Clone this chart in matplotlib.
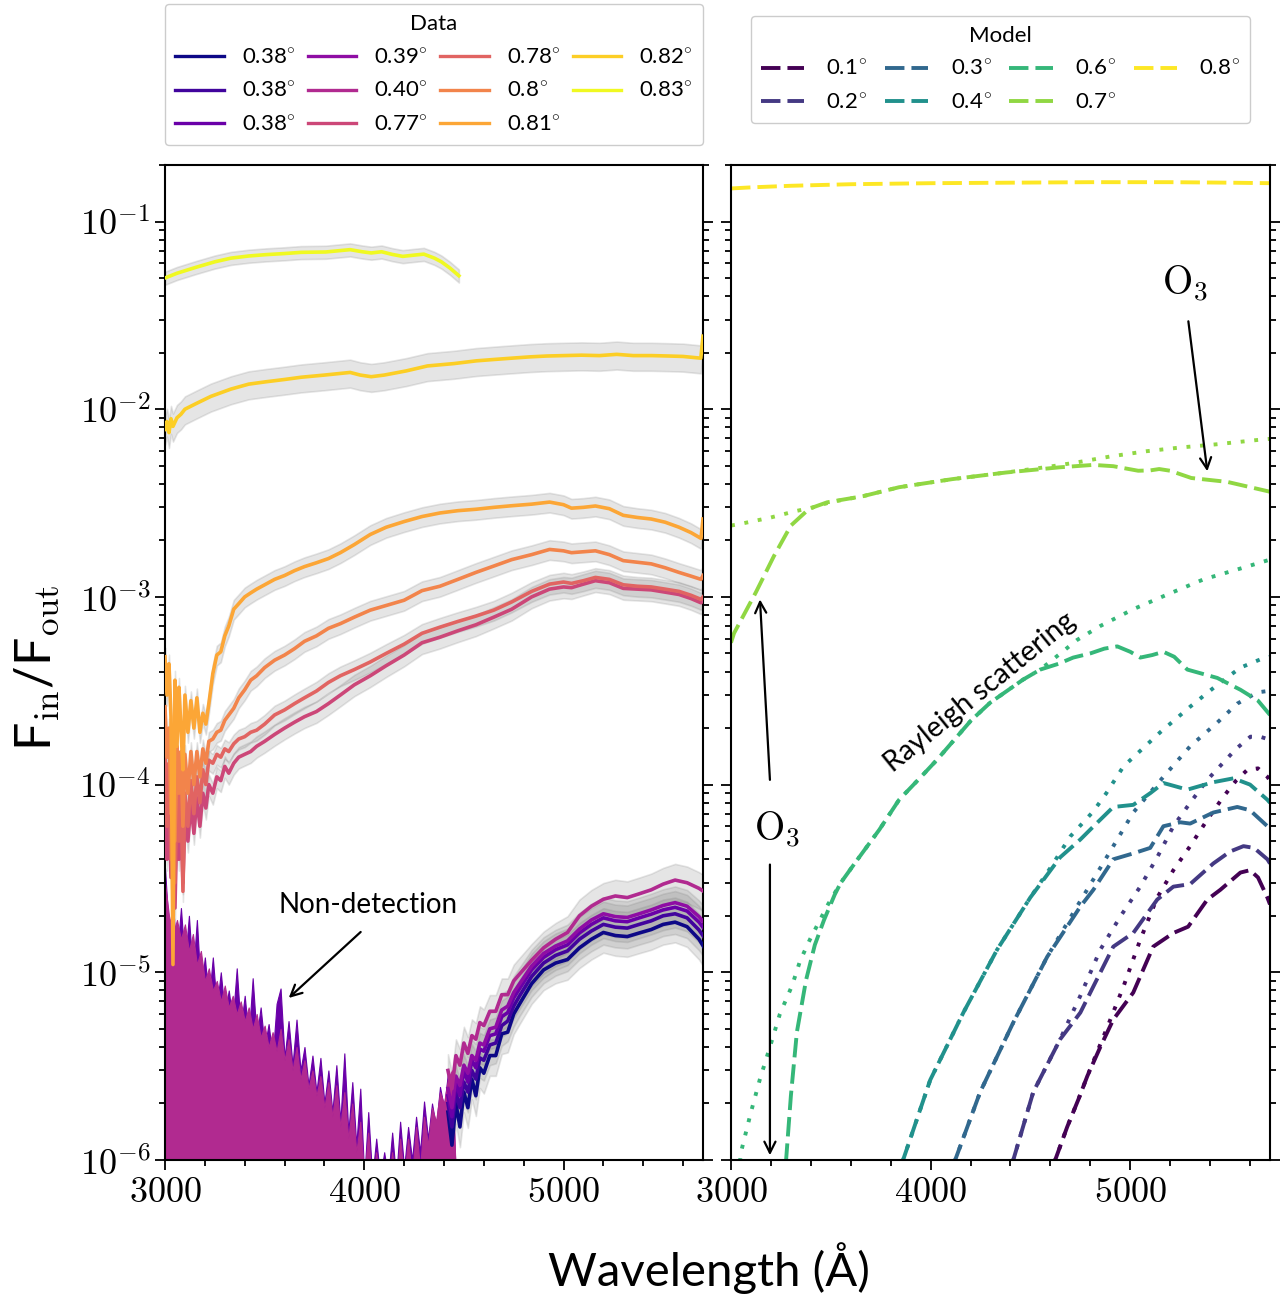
import numpy as np
import matplotlib
matplotlib.use("Agg")
import matplotlib.pyplot as plt
from matplotlib import ticker

plt.rcParams['font.family'] = ['Lato', 'DejaVu Sans']
plt.rcParams['mathtext.fontset'] = 'cm'

# ---------------- data (observed transmission, left panel) ----------------
data_labels = ['0.38', '0.38', '0.38', '0.39', '0.40', '0.77', '0.78', '0.8', '0.81', '0.82', '0.83']

# noisy short-wavelength part of the 0.38-0.40 group (upper envelopes)
noise_wl = [3000, 3020, 3040, 3060, 3080, 3100, 3120, 3140, 3160, 3180, 3200, 3220, 3240, 3260,
            3280, 3300, 3320, 3340, 3360, 3380, 3400, 3420, 3440, 3460, 3480, 3500, 3520, 3540,
            3560, 3580, 3600, 3620, 3640, 3660, 3680, 3700, 3720, 3740, 3760, 3780, 3800, 3820,
            3840, 3860, 3880, 3900, 3920, 3940, 3960, 3980, 4000, 4020, 4040, 4060, 4080, 4100,
            4120, 4140, 4160, 4180, 4200, 4220, 4240, 4260, 4280, 4300, 4320, 4340, 4360, 4380,
            4400, 4420, 4440, 4460]
noise_outer = [3.6e-5, 1.6e-5, 2.3e-5, 1.2e-5, 2.2e-5, 1.1e-5, 2.0e-5, 9.5e-6, 1.9e-5, 8.0e-6,
               1.2e-5, 7.0e-6, 1.2e-5, 6.5e-6, 1.0e-5, 6.0e-6, 8.0e-6, 5.5e-6, 1.05e-5, 5.0e-6,
               7.5e-6, 4.5e-6, 9.3e-6, 4.5e-6, 6.5e-6, 4.0e-6, 5.3e-6, 3.5e-6, 6.8e-6, 8.2e-6,
               3.5e-6, 5.5e-6, 3.2e-6, 5.6e-6, 3.0e-6, 4.0e-6, 2.5e-6, 3.6e-6, 2.3e-6, 3.5e-6,
               2.0e-6, 3.0e-6, 1.8e-6, 3.2e-6, 1.6e-6, 3.7e-6, 1.4e-6, 2.6e-6, 1.2e-6, 2.4e-6,
               8e-7, 1.8e-6, 8e-7, 1.3e-6, 8e-7, 1.1e-6, 8e-7, 1.4e-6, 8e-7, 1.6e-6,
               9e-7, 1.5e-6, 1.0e-6, 1.7e-6, 1.1e-6, 2.05e-6, 1.3e-6, 2.0e-6, 1.5e-6, 2.45e-6,
               1.9e-6, 2.9e-6, 2.6e-6, 8e-7]
noise_body = [3.0e-5, 2.0e-5, 1.6e-5, 1.9e-5, 1.5e-5, 1.8e-5, 1.3e-5, 1.6e-5, 1.1e-5, 1.3e-5,
              9.0e-6, 1.05e-5, 8.0e-6, 9.0e-6, 7.0e-6, 8.5e-6, 6.5e-6, 7.5e-6, 6.0e-6, 7.0e-6,
              5.5e-6, 6.5e-6, 5.0e-6, 6.0e-6, 4.5e-6, 5.2e-6, 4.0e-6, 4.8e-6, 3.8e-6, 5.0e-6,
              3.4e-6, 4.4e-6, 3.0e-6, 4.0e-6, 2.7e-6, 3.4e-6, 2.4e-6, 3.0e-6, 2.2e-6, 2.8e-6,
              1.9e-6, 2.6e-6, 1.7e-6, 2.5e-6, 1.5e-6, 2.3e-6, 1.3e-6, 2.0e-6, 1.1e-6, 1.6e-6,
              8e-7, 1.4e-6, 7e-7, 1.1e-6, 7e-7, 9e-7, 7e-7, 1.1e-6, 7e-7, 1.3e-6,
              8e-7, 1.3e-6, 8e-7, 1.5e-6, 9e-7, 1.7e-6, 1.2e-6, 1.9e-6, 1.6e-6, 2.3e-6,
              2.0e-6, 2.7e-6, 3.0e-6, 8e-7]

# long-wavelength part of the 0.38-0.40 group
wl_A = [4420, 4440, 4460, 4480, 4500, 4520, 4540, 4560, 4580, 4600, 4630, 4660, 4690, 4720, 4750,
        4780, 4840, 4900, 4960, 5020, 5080, 5140, 5200, 5260, 5320, 5380, 5440, 5500, 5560, 5620,
        5680, 5703]
f_038a = [1.8e-6, 1.2e-6, 2.0e-6, 1.5e-6, 2.3e-6, 1.9e-6, 2.7e-6, 2.2e-6, 3.1e-6, 2.9e-6, 3.6e-6,
          3.6e-6, 4.7e-6, 4.8e-6, 6.0e-6, 6.8e-6, 8.7e-6, 1.03e-5, 1.12e-5, 1.17e-5, 1.35e-5, 1.5e-5,
          1.63e-5, 1.57e-5, 1.55e-5, 1.62e-5, 1.69e-5, 1.8e-5, 1.85e-5, 1.75e-5, 1.5e-5, 1.37e-5]
f_038b = [2.0e-6, 1.5e-6, 2.3e-6, 1.9e-6, 2.6e-6, 2.3e-6, 3.0e-6, 2.7e-6, 3.5e-6, 3.4e-6, 4.1e-6,
          4.2e-6, 5.2e-6, 5.5e-6, 6.6e-6, 7.5e-6, 9.5e-6, 1.12e-5, 1.23e-5, 1.3e-5, 1.5e-5, 1.66e-5,
          1.8e-5, 1.74e-5, 1.72e-5, 1.8e-5, 1.88e-5, 2.0e-5, 2.05e-5, 1.95e-5, 1.68e-5, 1.55e-5]
f_038c = [2.2e-6, 1.7e-6, 2.6e-6, 2.2e-6, 3.0e-6, 2.6e-6, 3.4e-6, 3.1e-6, 3.9e-6, 3.8e-6, 4.6e-6,
          4.7e-6, 5.8e-6, 6.1e-6, 7.3e-6, 8.2e-6, 1.03e-5, 1.2e-5, 1.32e-5, 1.4e-5, 1.62e-5, 1.8e-5,
          1.95e-5, 1.88e-5, 1.86e-5, 1.95e-5, 2.04e-5, 2.15e-5, 2.22e-5, 2.12e-5, 1.85e-5, 1.72e-5]
f_039 = [2.4e-6, 1.9e-6, 2.8e-6, 2.5e-6, 3.2e-6, 2.9e-6, 3.6e-6, 3.4e-6, 4.2e-6, 4.1e-6, 5.0e-6,
         5.1e-6, 6.3e-6, 6.6e-6, 7.8e-6, 8.7e-6, 1.08e-5, 1.26e-5, 1.38e-5, 1.47e-5, 1.7e-5, 1.9e-5,
         2.05e-5, 1.98e-5, 1.96e-5, 2.05e-5, 2.15e-5, 2.27e-5, 2.35e-5, 2.25e-5, 1.98e-5, 1.85e-5]
f_040 = [3.0e-6, 2.4e-6, 3.6e-6, 3.2e-6, 4.2e-6, 3.7e-6, 4.6e-6, 4.4e-6, 5.4e-6, 5.2e-6, 6.2e-6,
         6.2e-6, 7.6e-6, 7.6e-6, 9.0e-6, 9.8e-6, 1.16e-5, 1.35e-5, 1.5e-5, 1.63e-5, 2.0e-5, 2.25e-5,
         2.45e-5, 2.55e-5, 2.5e-5, 2.62e-5, 2.75e-5, 2.95e-5, 3.1e-5, 3.0e-5, 2.8e-5, 2.7e-5]

wl_B = [3000, 3010, 3020, 3030, 3040, 3050, 3060, 3070, 3080, 3090, 3100, 3115, 3130, 3145, 3160,
        3175, 3190, 3205, 3220, 3240, 3260, 3280, 3300, 3320, 3345, 3370, 3400, 3430, 3460, 3500,
        3550, 3600, 3650, 3700, 3760, 3820, 3880, 3950, 4030, 4110, 4200, 4290, 4380, 4470, 4560,
        4650, 4740, 4840, 4930, 5000, 5040, 5100, 5160, 5230, 5300, 5370, 5440, 5510, 5580, 5640,
        5690, 5700]
f_077 = [1.1e-4, 4e-5, 9e-5, 3.2e-5, 8e-5, 2.2e-5, 7e-5, 4e-5, 7.5e-5, 3e-5, 7e-5, 5e-5, 8e-5, 5.5e-5,
         8.5e-5, 6e-5, 9e-5, 7.5e-5, 1.0e-4, 9e-5, 1.1e-4, 1.05e-4, 1.25e-4, 1.15e-4, 1.3e-4, 1.4e-4,
         1.45e-4, 1.5e-4, 1.6e-4, 1.7e-4, 1.85e-4, 2.0e-4, 2.15e-4, 2.3e-4, 2.45e-4, 2.7e-4, 3.0e-4,
         3.4e-4, 3.8e-4, 4.3e-4, 4.9e-4, 5.7e-4, 6.1e-4, 6.6e-4, 7.1e-4, 7.8e-4, 8.6e-4, 1.0e-3,
         1.1e-3, 1.13e-3, 1.12e-3, 1.17e-3, 1.22e-3, 1.19e-3, 1.11e-3, 1.1e-3, 1.09e-3, 1.06e-3,
         1.03e-3, 9.8e-4, 9.3e-4, 9.6e-4]
f_078 = [1.5e-4, 6e-5, 1.3e-4, 4e-5, 1.1e-4, 3e-5, 9e-5, 5e-5, 1.0e-4, 2.7e-5, 9e-5, 6e-5, 1.05e-4, 7e-5,
         1.1e-4, 8e-5, 1.2e-4, 1.0e-4, 1.35e-4, 1.3e-4, 1.45e-4, 1.4e-4, 1.55e-4, 1.5e-4, 1.65e-4,
         1.75e-4, 1.8e-4, 1.9e-4, 1.95e-4, 2.1e-4, 2.35e-4, 2.5e-4, 2.7e-4, 2.9e-4, 3.15e-4, 3.5e-4,
         3.8e-4, 4.1e-4, 4.5e-4, 5.0e-4, 5.6e-4, 6.4e-4, 6.9e-4, 7.4e-4, 7.9e-4, 8.5e-4, 9.4e-4,
         1.07e-3, 1.17e-3, 1.2e-3, 1.18e-3, 1.22e-3, 1.27e-3, 1.24e-3, 1.16e-3, 1.14e-3, 1.13e-3,
         1.1e-3, 1.07e-3, 1.02e-3, 9.7e-4, 1.0e-3]
f_080 = [2.6e-4, 1.4e-4, 2.0e-4, 7e-5, 1.8e-4, 5e-5, 1.6e-4, 9e-5, 1.5e-4, 6e-5, 1.45e-4, 9e-5, 1.5e-4,
         1.0e-4, 1.5e-4, 1.1e-4, 1.55e-4, 1.3e-4, 1.7e-4, 1.75e-4, 1.9e-4, 1.95e-4, 2.2e-4, 2.35e-4,
         2.55e-4, 2.9e-4, 3.2e-4, 3.6e-4, 3.8e-4, 4.2e-4, 4.6e-4, 4.9e-4, 5.3e-4, 5.8e-4, 6.2e-4,
         6.8e-4, 7.2e-4, 7.8e-4, 8.5e-4, 9.0e-4, 9.6e-4, 1.08e-3, 1.14e-3, 1.24e-3, 1.35e-3, 1.46e-3,
         1.58e-3, 1.68e-3, 1.79e-3, 1.76e-3, 1.72e-3, 1.74e-3, 1.76e-3, 1.68e-3, 1.56e-3, 1.53e-3,
         1.5e-3, 1.43e-3, 1.35e-3, 1.29e-3, 1.24e-3, 1.3e-3]
f_081 = [4.8e-4, 3.0e-4, 4.4e-4, 2.3e-4, 1.1e-5, 3.6e-4, 1.6e-4, 3.3e-4, 2.0e-4, 1.2e-4, 3.0e-4,
         1.9e-4, 2.8e-4, 2.0e-4, 2.9e-4, 1.9e-4, 2.4e-4, 2.1e-4, 2.7e-4, 3.9e-4, 4.9e-4, 5.1e-4,
         6.2e-4, 7.0e-4, 8.6e-4, 9.2e-4, 1.0e-3, 1.05e-3, 1.1e-3, 1.16e-3, 1.24e-3, 1.3e-3, 1.38e-3,
         1.45e-3, 1.52e-3, 1.6e-3, 1.72e-3, 1.9e-3, 2.15e-3, 2.35e-3, 2.52e-3, 2.68e-3, 2.8e-3,
         2.88e-3, 2.93e-3, 3.0e-3, 3.06e-3, 3.12e-3, 3.2e-3, 3.1e-3, 2.97e-3, 3.0e-3, 3.05e-3,
         2.95e-3, 2.72e-3, 2.65e-3, 2.6e-3, 2.5e-3, 2.35e-3, 2.2e-3, 2.05e-3, 2.6e-3]

wl_082 = [3000, 3010, 3020, 3030, 3040, 3060, 3080, 3100, 3155, 3230, 3331, 3420, 3507, 3600, 3683,
          3800, 3929, 3980, 4035, 4100, 4211, 4317, 4450, 4563, 4650, 4739, 4830, 4915, 5000, 5091,
          5180, 5267, 5350, 5443, 5530, 5600, 5689, 5700]
f_082 = [7.8e-3, 8.6e-3, 7.5e-3, 8.9e-3, 8.1e-3, 9.0e-3, 9.4e-3, 1.0e-2, 1.07e-2, 1.17e-2, 1.28e-2,
         1.36e-2, 1.40e-2, 1.44e-2, 1.48e-2, 1.52e-2, 1.57e-2, 1.52e-2, 1.49e-2, 1.52e-2, 1.60e-2,
         1.70e-2, 1.75e-2, 1.81e-2, 1.84e-2, 1.87e-2, 1.90e-2, 1.92e-2, 1.93e-2, 1.94e-2, 1.93e-2,
         1.96e-2, 1.93e-2, 1.93e-2, 1.92e-2, 1.91e-2, 1.87e-2, 2.45e-2]
wl_083 = [3000, 3060, 3155, 3250, 3331, 3420, 3507, 3600, 3683, 3806, 3880, 3929, 3990, 4035, 4087,
          4140, 4193, 4250, 4299, 4352, 4387, 4430, 4475]
f_083 = [0.050, 0.053, 0.057, 0.061, 0.0638, 0.0655, 0.0666, 0.0675, 0.0685, 0.0688, 0.070, 0.0708,
         0.0690, 0.0680, 0.0690, 0.0668, 0.0652, 0.0662, 0.067, 0.0638, 0.0610, 0.0565, 0.0514]

# relative error of each spectrum (grey bands)
err_A = 0.22
err_B = [0.13, 0.12, 0.12, 0.12]
err_082 = 0.17
err_083 = 0.08

# ---------------- model (right panel) ----------------
model_labels = ['0.1', '0.2', '0.3', '0.4', '0.6', '0.7', '0.8']

m01_wl_dash = [4600, 4624, 4684, 4740, 4785, 4850, 4915, 5015, 5115, 5216, 5290, 5386, 5451, 5552, 5600, 5640, 5687, 5700]
m01_dash = [7e-7, 1.0e-6, 1.5e-6, 2.1e-6, 2.8e-6, 4.0e-6, 5.6e-6, 7.8e-6, 1.37e-5, 1.62e-5, 1.75e-5, 2.44e-5, 2.75e-5, 3.4e-5, 3.5e-5, 3.2e-5, 2.5e-5, 2.3e-5]
m01_wl_dot = [4600, 4624, 4684, 4740, 4785, 4885, 4966, 5050, 5135, 5216, 5300, 5386, 5466, 5530, 5587, 5640, 5687, 5700]
m01_dot = [7e-7, 1.0e-6, 1.5e-6, 2.1e-6, 2.8e-6, 5.1e-6, 8.4e-6, 1.49e-5, 2.5e-5, 3.5e-5, 4.7e-5, 6.5e-5, 8.6e-5, 1.05e-4, 1.2e-4, 1.22e-4, 1.1e-4, 1.05e-4]

m02_wl_dash = [4400, 4414, 4514, 4649, 4750, 4815, 4915, 5015, 5135, 5216, 5300, 5416, 5500, 5567, 5620, 5687, 5700]
m02_dash = [7e-7, 1.0e-6, 2.3e-6, 4.4e-6, 6.1e-6, 8.4e-6, 1.37e-5, 1.62e-5, 2.44e-5, 2.86e-5, 2.95e-5, 3.8e-5, 4.4e-5, 4.7e-5, 4.6e-5, 4.0e-5, 3.8e-5]
m02_wl_dot = [4400, 4414, 4514, 4649, 4750, 4850, 4950, 5050, 5135, 5216, 5300, 5386, 5466, 5530, 5602, 5650, 5687, 5700]
m02_dot = [7e-7, 1.0e-6, 2.3e-6, 4.4e-6, 7.5e-6, 1.32e-5, 1.98e-5, 2.86e-5, 4.1e-5, 6.0e-5, 8.0e-5, 1.06e-4, 1.31e-4, 1.55e-4, 1.8e-4, 1.8e-4, 1.75e-4, 1.73e-4]

m03_wl_dash = [4100, 4123, 4248, 4414, 4584, 4750, 4815, 4915, 5015, 5100, 5166, 5250, 5300, 5416, 5536, 5600, 5687, 5700]
m03_dash = [7e-7, 1.0e-6, 2.3e-6, 5.4e-6, 1.21e-5, 2.24e-5, 2.75e-5, 4.0e-5, 4.3e-5, 4.6e-5, 6.0e-5, 6.3e-5, 6.2e-5, 7.1e-5, 7.6e-5, 7.3e-5, 6.0e-5, 5.8e-5]
m03_wl_dot = [4100, 4123, 4248, 4414, 4584, 4750, 4850, 4915, 5015, 5166, 5300, 5436, 5536, 5637, 5687, 5700]
m03_dot = [7e-7, 1.0e-6, 2.3e-6, 5.4e-6, 1.21e-5, 2.4e-5, 3.6e-5, 4.7e-5, 7.1e-5, 1.1e-4, 1.6e-4, 2.14e-4, 2.7e-4, 3.1e-4, 3.15e-4, 3.15e-4]

m04_wl_dash = [3850, 3862, 3998, 4164, 4333, 4499, 4649, 4750, 4830, 4915, 5015, 5100, 5166, 5286, 5416, 5517, 5600, 5687, 5700]
m04_dash = [7e-7, 1.0e-6, 2.67e-6, 6.1e-6, 1.32e-5, 2.5e-5, 4.1e-5, 5.1e-5, 6.2e-5, 7.6e-5, 7.8e-5, 9.0e-5, 1.02e-4, 9.4e-5, 1.03e-4, 1.08e-4, 1.0e-4, 8.3e-5, 8.0e-5]
m04_wl_dot = [3850, 3862, 3998, 4164, 4333, 4499, 4600, 4700, 4815, 4880, 4966, 5150, 5300, 5436, 5552, 5663, 5700]
m04_dot = [7e-7, 1.0e-6, 2.67e-6, 6.1e-6, 1.32e-5, 2.5e-5, 3.6e-5, 5.3e-5, 7.2e-5, 9.0e-5, 1.25e-4, 1.9e-4, 2.6e-4, 3.4e-4, 4.2e-4, 4.7e-4, 4.8e-4]

m06_wl_dash = [3260, 3276, 3300, 3330, 3376, 3420, 3466, 3520, 3550, 3627, 3743, 3842, 3952, 4033, 4203, 4298, 4464, 4549, 4640, 4714, 4800, 4870, 4935, 5000, 5050, 5110, 5166, 5220, 5286, 5436, 5552, 5640, 5700]
m06_dash = [7e-7, 1.0e-6, 2.2e-6, 4.8e-6, 9.1e-6, 1.4e-5, 1.9e-5, 2.6e-5, 3.0e-5, 3.9e-5, 5.75e-5, 8.3e-5, 1.1e-4, 1.36e-4, 2.2e-4, 2.73e-4, 3.63e-4, 4.1e-4, 4.4e-4, 4.75e-4, 5.0e-4, 5.3e-4, 5.45e-4, 5.1e-4, 4.75e-4, 4.9e-4, 5.1e-4, 4.8e-4, 4.1e-4, 3.7e-4, 3.2e-4, 2.8e-4, 2.35e-4]
m06_wl_dot = [3030, 3050, 3100, 3145, 3195, 3245, 3306, 3346, 3396, 3486, 3550, 3627, 3743, 3842, 3952, 4033, 4203, 4298, 4464, 4549, 4640, 4734, 4850, 5015, 5186, 5367, 5536, 5700]
m06_dot = [7e-7, 1.1e-6, 1.8e-6, 2.7e-6, 4.0e-6, 6.0e-6, 8.5e-6, 1.15e-5, 1.5e-5, 2.3e-5, 3.0e-5, 3.9e-5, 5.75e-5, 8.3e-5, 1.1e-4, 1.36e-4, 2.2e-4, 2.73e-4, 3.63e-4, 4.1e-4, 4.9e-4, 5.9e-4, 7.0e-4, 8.6e-4, 1.03e-3, 1.24e-3, 1.40e-3, 1.58e-3]

m07_wl_dash = [3000, 3015, 3125, 3215, 3300, 3375, 3411, 3481, 3661, 3842, 4108, 4378, 4644, 4815, 4915, 5040, 5100, 5145, 5200, 5306, 5486, 5687, 5700]
m07_dash = [5.7e-4, 6.4e-4, 1.06e-3, 1.65e-3, 2.4e-3, 2.84e-3, 3.0e-3, 3.19e-3, 3.44e-3, 3.84e-3, 4.24e-3, 4.6e-3, 4.9e-3, 5.05e-3, 4.97e-3, 4.7e-3, 4.72e-3, 4.8e-3, 4.7e-3, 4.3e-3, 4.1e-3, 3.66e-3, 3.63e-3]
m07_wl_dot = [3000, 3040, 3200, 3321, 3411, 3500, 3661, 3842, 4108, 4378, 4600, 4729, 4900, 5080, 5250, 5431, 5662, 5700]
m07_dot = [2.4e-3, 2.44e-3, 2.65e-3, 2.86e-3, 3.0e-3, 3.2e-3, 3.44e-3, 3.84e-3, 4.24e-3, 4.6e-3, 4.95e-3, 5.2e-3, 5.6e-3, 5.97e-3, 6.25e-3, 6.5e-3, 6.9e-3, 6.95e-3]

m08_wl_dash = [3000, 3100, 3300, 3600, 4000, 4400, 4800, 5200, 5500, 5700]
m08_dash = [0.150, 0.152, 0.155, 0.158, 0.160, 0.161, 0.162, 0.162, 0.161, 0.160]

# ---------------- figure ----------------
W, H = 1284, 1298
fig = plt.figure(figsize=(W / 100, H / 100), dpi=100)
axL = fig.add_axes([165 / W, 138 / H, 538 / W, 995 / H])
axR = fig.add_axes([731 / W, 138 / H, 539 / W, 995 / H], sharey=axL)

dcol = plt.cm.plasma(np.linspace(0, 1, 11))
mcol = plt.cm.viridis(np.linspace(0, 1, 7))
deg = r'$^{\circ}$'
lw_d = 2.6
lw_m = 2.8
dash = (0, (5, 1.8))
dots = (0, (1, 2.5))


def band(ax, x, y, e):
    y = np.asarray(y)
    ax.fill_between(x, y * (1 - e), y * (1 + e), color='0.5', alpha=0.2, lw=1.2, zorder=1)


# left panel: noisy part of low group
axL.fill_between(noise_wl, 1e-8, noise_outer, color=dcol[2], lw=0.8, zorder=2)
axL.fill_between(noise_wl, 1e-8, noise_body, color=dcol[4], lw=0.8, zorder=2)

for f, c, lab in zip([f_038a, f_038b, f_038c, f_039, f_040], dcol[:5], data_labels[:5]):
    band(axL, wl_A, f, err_A)
    axL.plot(wl_A, f, color=c, lw=lw_d, label=lab + deg, zorder=3)

for f, c, lab, e in zip([f_077, f_078, f_080, f_081], dcol[5:9], data_labels[5:9], err_B):
    band(axL, wl_B, f, e)
    axL.plot(wl_B, f, color=c, lw=lw_d, label=lab + deg, zorder=3)

band(axL, wl_082, f_082, err_082)
axL.plot(wl_082, f_082, color=dcol[9], lw=lw_d, label=data_labels[9] + deg, zorder=3)
band(axL, wl_083, f_083, err_083)
axL.plot(wl_083, f_083, color=dcol[10], lw=lw_d, label=data_labels[10] + deg, zorder=3)

# right panel
models = [(m01_wl_dash, m01_dash, m01_wl_dot, m01_dot),
          (m02_wl_dash, m02_dash, m02_wl_dot, m02_dot),
          (m03_wl_dash, m03_dash, m03_wl_dot, m03_dot),
          (m04_wl_dash, m04_dash, m04_wl_dot, m04_dot),
          (m06_wl_dash, m06_dash, m06_wl_dot, m06_dot),
          (m07_wl_dash, m07_dash, m07_wl_dot, m07_dot),
          (m08_wl_dash, m08_dash, None, None)]
for (xw, yd, xt, yt), c, lab in zip(models, mcol, model_labels):
    if xt is not None:
        axR.plot(xt, yt, color=c, lw=lw_m, ls=dots)
    axR.plot(xw, yd, color=c, lw=lw_m, ls=dash, label=lab + deg)

for ax in (axL, axR):
    ax.set_yscale('log')
    ax.set_xlim(3000, 5700)
    ax.xaxis.set_major_locator(ticker.MultipleLocator(1000))
    ax.xaxis.set_minor_locator(ticker.MultipleLocator(200))
    ax.xaxis.set_major_formatter(ticker.FuncFormatter(lambda v, p: r'$%d$' % v))
    ax.tick_params(which='both', direction='out', right=True, top=False, labelsize=26, width=1.3)
    ax.tick_params(which='major', length=7)
    ax.tick_params(which='minor', length=4)
    for s in ax.spines.values():
        s.set_linewidth(1.5)
axL.set_ylim(1e-6, 0.2)
axL.yaxis.set_major_formatter(ticker.FuncFormatter(lambda v, p: r'$10^{%d}$' % round(np.log10(v))))
axR.tick_params(labelleft=False)

# annotations
arrow = dict(arrowstyle='->', color='k', lw=1.6, shrinkA=0, shrinkB=0, mutation_scale=20)
axL.annotate('', xy=(3621, 7.3e-6), xytext=(3982, 1.64e-5), arrowprops=arrow)
axL.text(4018, 2.29e-5, 'Non-detection', fontsize=20, ha='center', va='center')

axR.text(5276, 0.0464, r'$\mathrm{O_3}$', fontsize=28, ha='center', va='center')
axR.annotate('', xy=(5386, 4.67e-3), xytext=(5291, 0.0294), arrowprops=arrow)
axR.text(3231, 5.75e-5, r'$\mathrm{O_3}$', fontsize=28, ha='center', va='center')
axR.annotate('', xy=(3145, 9.7e-4), xytext=(3195, 1.06e-4), arrowprops=arrow)
axR.annotate('', xy=(3195, 1.06e-6), xytext=(3195, 3.75e-5), arrowprops=arrow)
axR.text(4248, 3.1e-4, 'Rayleigh scattering', fontsize=20.5, rotation=39,
         ha='center', va='center', rotation_mode='anchor')

# legends
legL = axL.legend(loc='lower left', bbox_to_anchor=(0, 1.02, 1, 0.2), mode='expand', ncol=4,
                  title='Data', fontsize=16, title_fontsize=16, handlelength=2.2,
                  handletextpad=0.8, columnspacing=0.6, labelspacing=0.62, borderpad=0.45,
                  borderaxespad=0.0, framealpha=1)
for h in legL.get_lines():
    h.set_linewidth(2.4)
legR = axR.legend(loc='lower center', bbox_to_anchor=(0.5, 1.042), ncol=4,
                  title='Model', fontsize=16, title_fontsize=16, handlelength=1.95,
                  handletextpad=1.0, columnspacing=0.8, labelspacing=0.62, borderpad=0.45,
                  borderaxespad=0.0, framealpha=1)

fig.text(709 / W, 1 - 1268 / H, 'Wavelength (Å)', fontsize=34, ha='center', va='center')
fig.text(37 / W, 1 - 668 / H, r'F$_{\rm in}$/F$_{\rm out}$', fontsize=36, ha='center', va='center',
         rotation=90)

fig.savefig('out.png', dpi=100)
